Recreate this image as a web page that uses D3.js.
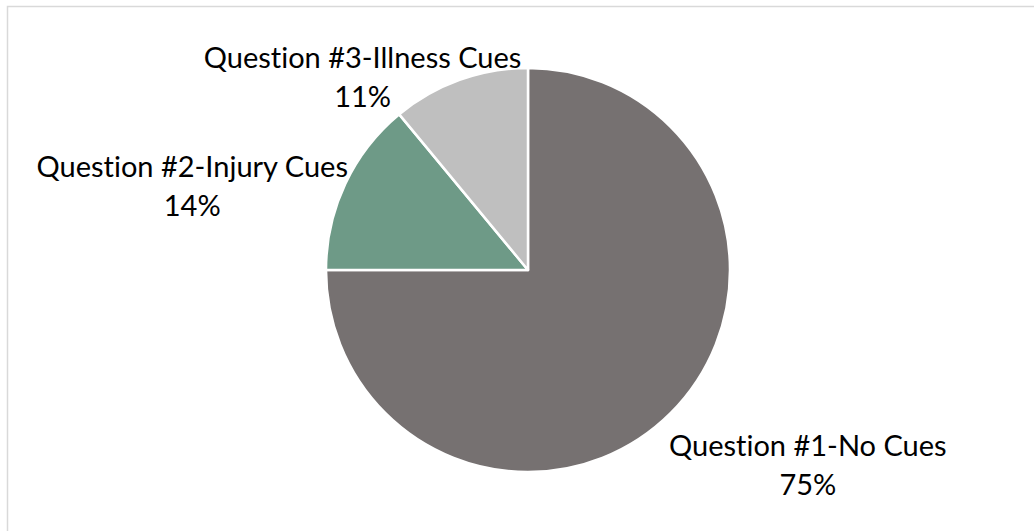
<!DOCTYPE html>
<html>
<head>
<meta charset="utf-8">
<script src="https://cdn.jsdelivr.net/npm/d3@7"></script>
<style>
  body { margin: 0; background: #ffffff; }
  text { font-family: Lato, "Open Sans", sans-serif; fill: #000000; font-variant-ligatures: none; }
</style>
</head>
<body>
<div id="chart"></div>
<script>
// Data
const categories = ["Question #1-No Cues", "Question #2-Injury Cues", "Question #3-Illness Cues"];
const percents = [75, 14, 11];
const sliceColors = ["#767171", "#6E9A87", "#BFBFBF"];

// Layout
const width = 1034;
const height = 531;
const cx = 528, cy = 270, radius = 202;
// label offset (first line baseline) from the slice's outer mid point
const labelOffsets = [[137, 43], [-153, -7], [-97, -12]];

const svg = d3.select("#chart")
    .append("svg")
    .attr("width", width)
    .attr("height", height);

// chart area border
svg.append("rect")
    .attr("x", 7.5)
    .attr("y", 6.5)
    .attr("width", 1040)
    .attr("height", 540)
    .attr("fill", "none")
    .attr("stroke", "#D9D9D9")
    .attr("stroke-width", 1.5);

const data = categories.map((c, i) => ({ name: c, value: percents[i], color: sliceColors[i] }));

const pie = d3.pie()
    .sort(null)
    .value(d => d.value);

const arc = d3.arc()
    .innerRadius(0)
    .outerRadius(radius);

const g = svg.append("g")
    .attr("transform", `translate(${cx},${cy})`);

const arcs = pie(data);

g.selectAll("path")
    .data(arcs)
    .enter()
    .append("path")
    .attr("d", arc)
    .attr("fill", d => d.data.color)
    .attr("stroke", "#ffffff")
    .attr("stroke-width", 2.5)
    .attr("stroke-linejoin", "round");

// labels: category name + percentage
const labels = g.selectAll("g.label")
    .data(arcs)
    .enter()
    .append("g")
    .attr("class", "label")
    .attr("transform", (d, i) => {
        const a = (d.startAngle + d.endAngle) / 2;
        const x = radius * Math.sin(a) + labelOffsets[i][0];
        const y = -radius * Math.cos(a) + labelOffsets[i][1];
        return `translate(${x},${y})`;
    });

labels.append("text")
    .attr("text-anchor", "middle")
    .attr("font-size", 29)
    .text(d => d.data.name);

labels.append("text")
    .attr("text-anchor", "middle")
    .attr("y", 39)
    .attr("font-size", 29)
    .text(d => d.data.value + "%");
</script>
</body>
</html>
